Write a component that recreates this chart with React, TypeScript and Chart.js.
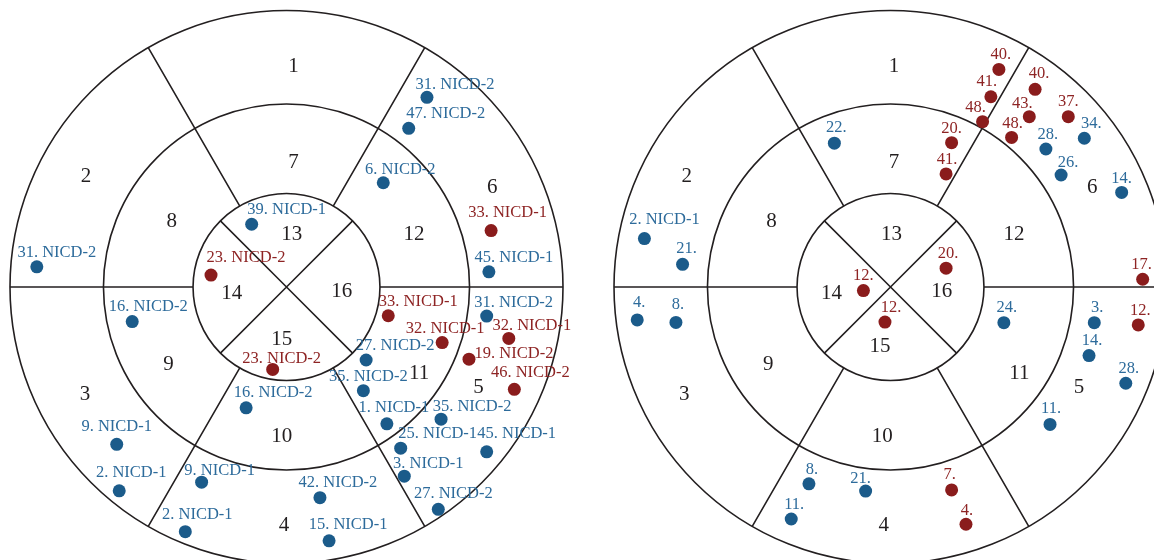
import React, { useEffect, useRef } from "react";
import { Chart, registerables } from "chart.js";

Chart.register(...registerables);

const FONT = '"Palatino Linotype", "Book Antiqua", Palatino, "Liberation Serif", serif';
const LINE_COLOR = "#231f20";
const BLUE_DOT = "#1b5b8a";
const BLUE_TEXT = "#2d6b9b";
const RED_DOT = "#8a1c1c";
const RED_TEXT = "#8e2424";

// Bull's-eye geometry in plot units (outer edge of the basal ring = 100)
const RING_RADII = [100, 66.2, 33.8];
const SEGMENT_NUMBERS = ["1", "2", "3", "4", "5", "6", "7", "8", "9", "10", "11", "12", "13", "14", "15", "16"];

// ---- Left bull's-eye: blue group ----
const leftBlueNames = [
  "31. NICD-2", "39. NICD-1", "31. NICD-2", "47. NICD-2", "6. NICD-2", "45. NICD-1",
  "16. NICD-2", "16. NICD-2", "9. NICD-1", "2. NICD-1", "9. NICD-1", "2. NICD-1",
  "31. NICD-2", "27. NICD-2", "35. NICD-2", "1. NICD-1", "35. NICD-2", "25. NICD-1",
  "45. NICD-1", "3. NICD-1", "42. NICD-2", "27. NICD-2", "15. NICD-1",
];
const leftBlueX = [-90.3, -12.6, 50.8, 44.2, 35.0, 73.2, -55.8, -14.6, -61.4, -60.5, -30.7, -36.6, 72.4, 28.8, 27.8, 36.3, 55.9, 41.3, 72.4, 42.6, 12.1, 54.9, 15.4];
const leftBlueY = [7.3, 22.7, 68.6, 57.4, 37.7, 5.5, -12.5, -43.7, -56.9, -73.7, -70.6, -88.5, -10.5, -26.4, -37.5, -49.5, -47.8, -58.3, -59.6, -68.4, -76.2, -80.4, -91.8];

// ---- Left bull's-eye: red group ----
const leftRedNames = ["23. NICD-2", "33. NICD-1", "23. NICD-2", "33. NICD-1", "32. NICD-1", "32. NICD-1", "19. NICD-2", "46. NICD-2"];
const leftRedX = [-27.3, 74.0, -5.0, 36.8, 56.3, 80.4, 66.0, 82.4];
const leftRedY = [4.3, 20.4, -29.8, -10.4, -20.1, -18.6, -26.1, -37.0];

// ---- Right bull's-eye: blue group ----
const rightBlueNames = ["22.", "2. NICD-1", "21.", "28.", "34.", "26.", "14.", "4.", "8.", "8.", "21.", "11.", "24.", "3.", "14.", "28.", "11."];
const rightBlueX = [-20.3, -89.0, -75.2, 56.2, 70.1, 61.7, 83.6, -91.6, -77.6, -29.5, -9.0, -35.9, 41.0, 73.7, 71.8, 85.1, 57.7];
const rightBlueY = [52.0, 17.5, 8.2, 49.9, 53.8, 40.5, 34.2, -11.9, -12.8, -71.2, -73.8, -83.9, -12.9, -12.9, -24.8, -34.8, -49.7];

// ---- Right bull's-eye: red group ----
const rightRedNames = ["12.", "12.", "20.", "40.", "41.", "48.", "20.", "41.", "40.", "43.", "37.", "48.", "17.", "12.", "7.", "4."];
const rightRedX = [-9.8, -2.0, 20.1, 39.2, 36.3, 33.3, 22.1, 20.1, 52.3, 50.2, 64.3, 43.8, 91.2, 89.6, 22.1, 27.3];
const rightRedY = [-1.3, -12.7, 6.8, 78.7, 68.8, 59.8, 52.2, 40.9, 71.5, 61.6, 61.6, 54.1, 2.8, -13.7, -73.4, -85.8];

// ---- Layout: where segment numbers sit (plot units) ----
const leftSegX = [2.5, -72.5, -72.9, -0.9, 69.4, 74.4, 2.5, -41.5, -42.7, -1.7, 48.0, 46.1, 1.9, -19.8, -1.7, 20.0];
const leftSegY = [79.7, 39.9, -38.7, -86.4, -36.4, 35.9, 45.1, 23.6, -28.2, -53.9, -31.2, 19.1, 19.1, -2.3, -18.9, -1.7];
const rightSegX = [1.3, -73.7, -74.6, -2.4, 68.2, 73.0, 1.3, -43.0, -44.2, -3.0, 46.6, 44.7, 0.4, -21.3, -3.8, 18.5];
const rightSegY = [79.7, 39.9, -38.7, -86.4, -36.3, 35.9, 45.1, 23.6, -28.2, -53.9, -31.2, 19.1, 19.1, -2.3, -21.6, -1.7];

// ---- Layout: label shifts from each dot, in pixels [dx, dy] ----
const leftBlueShift = [
  [20, -14.4], [35, -14.3], [28, -12.3], [37, -14.3], [17, -13.4], [25, -14],
  [16, -15], [27, -15], [0, -17.6], [12, -18], [18, -11.3], [12, -16.7],
  [27, -13.7], [29, -14], [5, -14], [7, -15.7], [31, -12.6], [37, -14.3],
  [30, -18.4], [24, -12.7], [18, -15], [15, -16], [19, -15.7],
];
const leftRedShift = [[35, -17.7], [16.5, -18], [9, -11], [30, -14], [3, -13.7], [23, -12.3], [45, -5.3], [16, -16.6]];
const rightBlueShift = [
  [2, -15.6], [20, -19.4], [4, -16], [2, -14], [7, -14.3], [7, -12.7], [0, -13.3], [2, -17.3], [2, -17.3],
  [3, -14], [-5, -12], [3, -14], [3, -15.4], [3, -15], [3, -14.7], [3, -15], [1, -16],
];
const rightRedShift = [
  [0, -14.7], [6, -14.4], [2, -14.3], [2, -14.3], [-4, -15], [-7, -14.4], [0, -14.4], [1, -14],
  [4, -15.3], [-7, -13.4], [0, -15], [1, -13.3], [-1, -15], [2, -14.3], [-2, -15], [1, -14],
];

const PX_PER_UNIT = 2.765;
const CANVAS_W = 577;
const CANVAS_H = 560;
const CENTER_Y_PX = 287;

const toPoints = (xs: number[], ys: number[]) => xs.map((x, i) => ({ x, y: ys[i] }));

const bullseyePlugin = {
  id: "bullseye",
  beforeDatasetsDraw(chart: any, _args: any, opts: any) {
    const { ctx } = chart;
    const xs = chart.scales.x;
    const ys = chart.scales.y;
    const px = (v: number) => xs.getPixelForValue(v);
    const py = (v: number) => ys.getPixelForValue(v);
    const cx = px(0);
    const cy = py(0);
    ctx.save();
    ctx.strokeStyle = LINE_COLOR;
    ctx.lineWidth = 1.6;
    for (const r of RING_RADII) {
      ctx.beginPath();
      ctx.arc(cx, cy, px(r) - cx, 0, Math.PI * 2);
      ctx.stroke();
    }
    const spoke = (deg: number, r0: number, r1: number) => {
      const t = (deg * Math.PI) / 180;
      ctx.moveTo(px(r0 * Math.cos(t)), py(r0 * Math.sin(t)));
      ctx.lineTo(px(r1 * Math.cos(t)), py(r1 * Math.sin(t)));
    };
    ctx.beginPath();
    for (const a of [0, 60, 120, 180, 240, 300]) spoke(a, RING_RADII[2], RING_RADII[0]);
    for (const a of [45, 135, 225, 315]) spoke(a, 0, RING_RADII[2]);
    ctx.stroke();

    ctx.fillStyle = LINE_COLOR;
    ctx.font = `21px ${FONT}`;
    ctx.textAlign = "center";
    ctx.textBaseline = "middle";
    opts.segX.forEach((sx: number, i: number) => {
      ctx.fillText(SEGMENT_NUMBERS[i], px(sx), py(opts.segY[i]));
    });
    ctx.restore();
  },
  afterDatasetsDraw(chart: any, _args: any, opts: any) {
    const { ctx } = chart;
    ctx.save();
    ctx.font = `16.5px ${FONT}`;
    ctx.textAlign = "center";
    ctx.textBaseline = "middle";
    opts.labelSets.forEach((set: any, di: number) => {
      const meta = chart.getDatasetMeta(di);
      ctx.fillStyle = set.color;
      meta.data.forEach((el: any, j: number) => {
        const [dx, dy] = set.shift[j];
        ctx.fillText(set.names[j], el.x + dx, el.y + dy);
      });
    });
    ctx.restore();
  },
};

type Props = {
  left: number;
  centerXPx: number;
  blueNames: string[];
  blueX: number[];
  blueY: number[];
  redNames: string[];
  redX: number[];
  redY: number[];
  blueShift: number[][];
  redShift: number[][];
  segX: number[];
  segY: number[];
};

function BullsEye(p: Props) {
  const ref = useRef<HTMLCanvasElement | null>(null);
  useEffect(() => {
    if (!ref.current) return;
    const chart = new Chart(ref.current, {
      type: "scatter",
      data: {
        datasets: [
          {
            data: toPoints(p.blueX, p.blueY),
            backgroundColor: BLUE_DOT,
            borderWidth: 0,
            pointRadius: 6.5,
          },
          {
            data: toPoints(p.redX, p.redY),
            backgroundColor: RED_DOT,
            borderWidth: 0,
            pointRadius: 6.5,
          },
        ],
      },
      options: {
        responsive: false,
        animation: false,
        layout: { padding: 0, autoPadding: false },
        scales: {
          x: {
            type: "linear",
            display: false,
            min: -p.centerXPx / PX_PER_UNIT,
            max: (CANVAS_W - p.centerXPx) / PX_PER_UNIT,
          },
          y: {
            type: "linear",
            display: false,
            min: -(CANVAS_H - CENTER_Y_PX) / PX_PER_UNIT,
            max: CENTER_Y_PX / PX_PER_UNIT,
          },
        },
        plugins: {
          legend: { display: false },
          tooltip: { enabled: false },
          bullseye: {
            segX: p.segX,
            segY: p.segY,
            labelSets: [
              { names: p.blueNames, shift: p.blueShift, color: BLUE_TEXT },
              { names: p.redNames, shift: p.redShift, color: RED_TEXT },
            ],
          },
        } as any,
      },
      plugins: [bullseyePlugin],
    });
    return () => chart.destroy();
  }, []);
  return (
    <canvas
      ref={ref}
      width={CANVAS_W}
      height={CANVAS_H}
      style={{ position: "absolute", left: p.left, top: 0, width: CANVAS_W, height: CANVAS_H }}
    />
  );
}

export default function App() {
  return (
    <div style={{ position: "absolute", left: 0, top: 0, width: 1154, height: 560, overflow: "hidden", background: "#fff" }}>
      <BullsEye
        left={0}
        centerXPx={286.5}
        blueNames={leftBlueNames}
        blueX={leftBlueX}
        blueY={leftBlueY}
        redNames={leftRedNames}
        redX={leftRedX}
        redY={leftRedY}
        blueShift={leftBlueShift}
        redShift={leftRedShift}
        segX={leftSegX}
        segY={leftSegY}
      />
      <BullsEye
        left={577}
        centerXPx={313.5}
        blueNames={rightBlueNames}
        blueX={rightBlueX}
        blueY={rightBlueY}
        redNames={rightRedNames}
        redX={rightRedX}
        redY={rightRedY}
        blueShift={rightBlueShift}
        redShift={rightRedShift}
        segX={rightSegX}
        segY={rightSegY}
      />
    </div>
  );
}
